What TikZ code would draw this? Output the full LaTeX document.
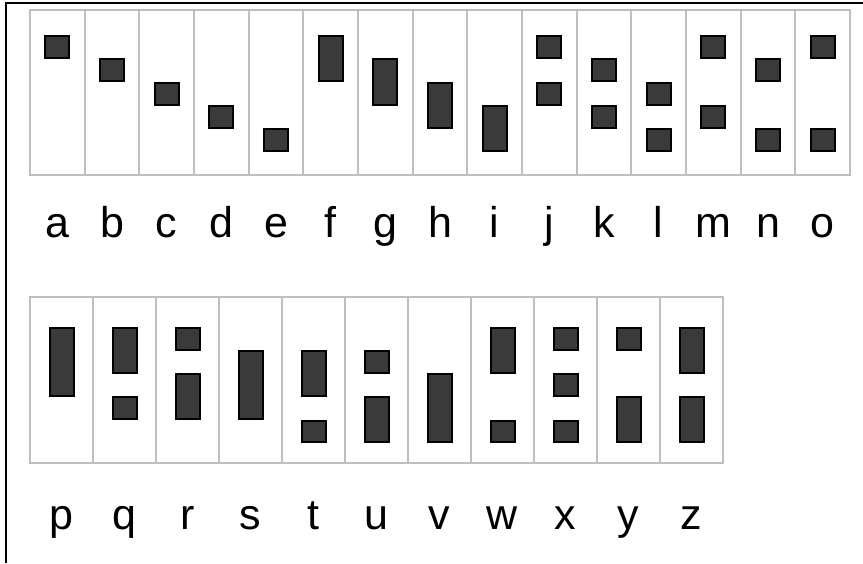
\documentclass[tikz,border=0pt]{standalone}
\usepackage{fontspec}
\setmainfont{Liberation Sans}
\definecolor{cellgray}{HTML}{BEBEBE}
\definecolor{barfill}{HTML}{3A3A3A}
\begin{document}
\begin{tikzpicture}[x=1pt,y=-1pt,
  cellbox/.style={draw=cellgray,line width=1.9pt},
  elem/.style={fill=barfill,draw=black,line width=2pt},
  lettr/.style={anchor=base,inner sep=0pt,font=\fontsize{43}{43}\selectfont},
  frame/.style={draw=black,line width=2.6pt}]
\useasboundingbox (0,0) rectangle (863,563);
\fill[white] (0,0) rectangle (863,563);
% frame
\draw[frame] (6,563) -- (6,3) -- (863,3);
% ---------- row 1 ----------
\pgfmathsetmacro{\wa}{820/15}
\foreach \i in {0,...,14}{
  \draw[cellbox] ({30+\i*\wa},10) rectangle ({30+(\i+1)*\wa},175);
}
\foreach \i/\s/\e in {0/1/1,1/2/2,2/3/3,3/4/4,4/5/5,5/1/2,6/2/3,7/3/4,8/4/5,
  9/1/1,9/3/3,10/2/2,10/4/4,11/3/3,11/5/5,12/1/1,12/4/4,13/2/2,13/5/5,14/1/1,14/5/5}{
  \draw[elem] ({30+(\i+0.5)*\wa-12},{35+(\s-1)*23.4+0.8}) rectangle ({30+(\i+0.5)*\wa+12},{35+\e*23.4-0.6});
}
\foreach \i/\L in {0/a,1/b,2/c,3/d,4/e,5/f,6/g,7/h,8/i,9/j,10/k,11/l,12/m,13/n,14/o}{
  \node[lettr] (l\L) at ({30+(\i+0.5)*\wa},237) {\L};
}
% ---------- row 2 ----------
\pgfmathsetmacro{\wb}{693/11}
\foreach \i in {0,...,10}{
  \draw[cellbox] ({30+\i*\wb},297) rectangle ({30+(\i+1)*\wb},463);
}
\foreach \i/\s/\e in {0/1/3,1/1/2,1/4/4,2/1/1,2/3/4,3/2/4,4/2/3,4/5/5,5/2/2,5/4/5,
  6/3/5,7/1/2,7/5/5,8/1/1,8/3/3,8/5/5,9/1/1,9/4/5,10/1/2,10/4/5}{
  \draw[elem] ({30+(\i+0.5)*\wb-12},{327+(\s-1)*23.2+0.8}) rectangle ({30+(\i+0.5)*\wb+12},{327+\e*23.2-0.6});
}
\foreach \i/\L in {0/p,1/q,2/r,3/s,4/t,5/u,6/v,7/w,8/x,9/y,10/z}{
  \node[lettr] (l\L) at ({30+(\i+0.5)*\wb},529) {\L};
}
\end{tikzpicture}
\end{document}
